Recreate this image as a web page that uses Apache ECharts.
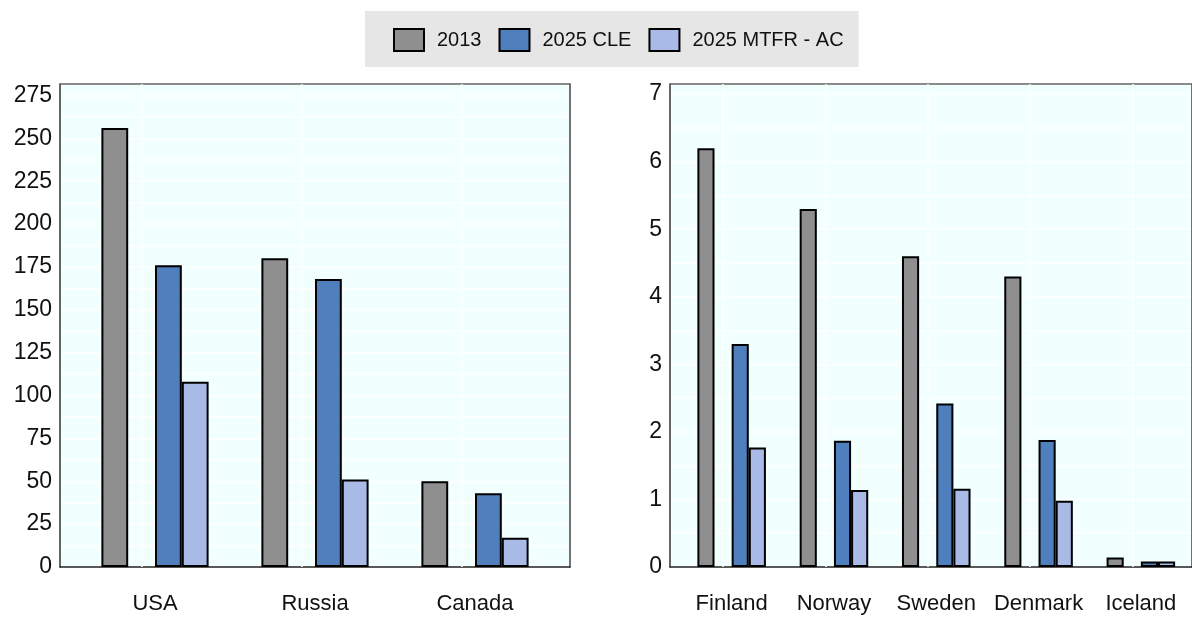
<!DOCTYPE html>
<html>
<head>
<meta charset="utf-8">
<script src="https://cdn.jsdelivr.net/npm/echarts@6/dist/echarts.min.js"></script>
<style>
  html, body { margin: 0; padding: 0; background: #fff; }
  #chart { width: 1192px; height: 617px; }
</style>
</head>
<body>
<div id="chart"></div>
<script>
// Large producers (left panel)
const bigCountries = ['USA', 'Russia', 'Canada'];
const big2013 = [256, 180, 50];
const bigCLE = [176, 168, 43];
const bigMTFR = [108, 51, 17];

// Nordic countries (right panel)
const nordicCountries = ['Finland', 'Norway', 'Sweden', 'Denmark', 'Iceland'];
const nordic2013 = [6.2, 5.3, 4.6, 4.3, 0.14];
const nordicCLE = [3.3, 1.87, 2.42, 1.88, 0.08];
const nordicMTFR = [1.77, 1.14, 1.16, 0.98, 0.08];

const seriesNames = ['2013', '2025 CLE', '2025 MTFR - AC'];
const seriesColors = ['#8f8f8f', '#4f7fbc', '#a9bae6'];

const FONT = '"Liberation Sans", Arial, sans-serif';
const PLOT_BG = '#f1ffff';
const plotTop = 84, plotBottom = 50;

// frame grids carry the background, outline and horizontal gridlines;
// data grids are inset so the categories leave a margin at each side
const grids = [
  { left: 60, width: 510, top: plotTop, bottom: plotBottom, show: true, backgroundColor: PLOT_BG, borderWidth: 0 },
  { left: 75, width: 480, top: plotTop, bottom: plotBottom },
  { left: 670, width: 535, top: plotTop, bottom: plotBottom, show: true, backgroundColor: PLOT_BG, borderWidth: 0 },
  { left: 680.5, width: 514.5, top: plotTop, bottom: plotBottom }
];

const edge = (color, width) => ({ show: true, onZero: false, lineStyle: { color, width } });

function frameY(gridIndex, max, interval) {
  return {
    type: 'value', gridIndex, min: 0, max, interval, position: 'left',
    axisLine: edge('#333', 1.5), axisTick: { show: false },
    axisLabel: { show: true, showMaxLabel: false, color: '#111', fontSize: 23, fontFamily: FONT, margin: 8 },
    splitLine: { show: true, lineStyle: { color: '#ffffff', width: 1.5 } },
    minorTick: { show: false, splitNumber: 2 },
    minorSplitLine: { show: true, lineStyle: { color: '#ffffff', width: 1.5 } }
  };
}
function frameRight(gridIndex, max) {
  return {
    type: 'value', gridIndex, min: 0, max, position: 'right',
    axisLine: edge('#444', 1.5), axisTick: { show: false },
    axisLabel: { show: false }, splitLine: { show: false }
  };
}
function frameX(gridIndex, position, color) {
  return {
    type: 'value', gridIndex, min: 0, max: 1, position,
    axisLine: edge(color, 1.5), axisTick: { show: false },
    axisLabel: { show: false }, splitLine: { show: false }
  };
}
function dataY(gridIndex, max) {
  return { type: 'value', gridIndex, min: 0, max, show: false, splitLine: { show: false } };
}
function dataX(gridIndex, cats) {
  return {
    type: 'category', gridIndex, data: cats, position: 'bottom',
    axisLine: { show: false },
    axisTick: { show: false },
    axisLabel: { interval: 0, color: '#111', fontSize: 22, fontFamily: FONT, margin: 26 }
  };
}

function panelSeries(xi, yi, cats, values) {
  const out = [];
  const barStyle = (c) => ({ color: c, borderColor: '#000', borderWidth: 2 });
  out.push({
    name: seriesNames[0], type: 'bar', xAxisIndex: xi, yAxisIndex: yi,
    data: values[0], itemStyle: barStyle(seriesColors[0]), z: 3,
    barGap: 0, barCategoryGap: '33%'
  });
  // empty slot between 2013 and the 2025 pair; also draws the white category lines
  out.push({
    name: 'gap', type: 'bar', xAxisIndex: xi, yAxisIndex: yi,
    data: cats.map(() => null), z: 1, silent: true,
    barGap: 0, barCategoryGap: '33%',
    markLine: {
      silent: true, symbol: 'none', label: { show: false },
      lineStyle: { color: '#ffffff', width: 1.5, type: 'solid' },
      data: cats.map(c => ({ xAxis: c }))
    }
  });
  out.push({
    name: seriesNames[1], type: 'bar', xAxisIndex: xi, yAxisIndex: yi,
    data: values[1], itemStyle: barStyle(seriesColors[1]), z: 3,
    barGap: 0, barCategoryGap: '33%'
  });
  out.push({
    name: seriesNames[2], type: 'bar', xAxisIndex: xi, yAxisIndex: yi,
    data: values[2], itemStyle: barStyle(seriesColors[2]), z: 3,
    barGap: 0, barCategoryGap: '33%'
  });
  return out;
}

const leftMax = 281.7, rightMax = 7.15;

const option = {
  animation: false,
  backgroundColor: '#ffffff',
  legend: {
    data: seriesNames,
    left: 365, top: 11,
    padding: [17, 15, 15, 28],
    backgroundColor: '#e6e6e6',
    itemWidth: 30, itemHeight: 22, itemGap: 17,
    icon: 'rect',
    itemStyle: { borderColor: '#000', borderWidth: 2 },
    textStyle: { color: '#111', fontSize: 20, fontFamily: FONT, padding: [0, 0, 0, 8] }
  },
  grid: grids,
  xAxis: [
    frameX(0, 'bottom', '#222'),   // 0
    dataX(1, bigCountries),        // 1
    frameX(2, 'bottom', '#222'),   // 2
    dataX(3, nordicCountries),     // 3
    frameX(0, 'top', '#666'),      // 4
    frameX(2, 'top', '#666')       // 5
  ],
  yAxis: [
    frameY(0, leftMax, 25),        // 0
    dataY(1, leftMax),             // 1
    frameY(2, rightMax, 1),        // 2
    dataY(3, rightMax),            // 3
    frameRight(0, leftMax),        // 4
    frameRight(2, rightMax)        // 5
  ],
  series: [
    ...panelSeries(1, 1, bigCountries, [big2013, bigCLE, bigMTFR]),
    ...panelSeries(3, 3, nordicCountries, [nordic2013, nordicCLE, nordicMTFR])
  ]
};

const chart = echarts.init(document.getElementById('chart'), null, { renderer: 'canvas' });
chart.setOption(option);
</script>
</body>
</html>
